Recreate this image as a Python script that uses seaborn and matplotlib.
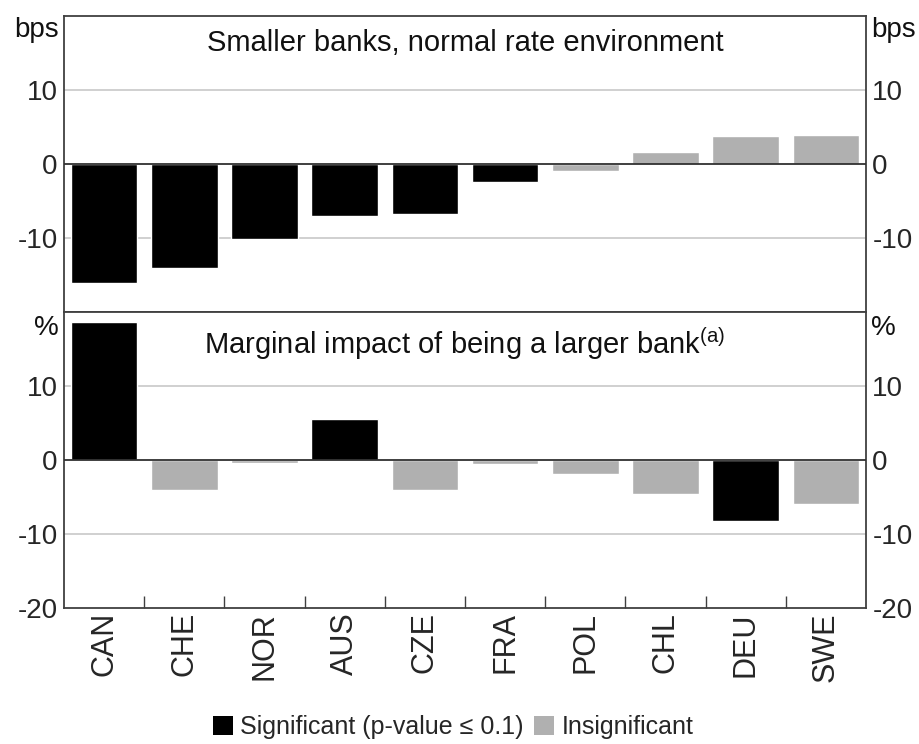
import matplotlib
matplotlib.use("Agg")
import matplotlib.pyplot as plt
from matplotlib.patches import Patch
from matplotlib.ticker import FixedLocator
import seaborn as sns
import pandas as pd
import numpy as np

# Countries, ordered as shown
countries = ["CAN", "CHE", "NOR", "AUS", "CZE", "FRA", "POL", "CHL", "DEU", "SWE"]

# Smaller banks, normal rate environment (bps)
small_bank_effect = [-16.1, -14.0, -10.1, -7.0, -6.8, -2.4, -1.0, 1.6, 3.8, 3.9]
small_bank_signif = [True, True, True, True, True, True, False, False, False, False]

# Marginal impact of being a larger bank (%)
large_bank_effect = [18.6, -4.1, -0.4, 5.6, -4.1, -0.5, -1.9, -4.6, -8.2, -5.9]
large_bank_signif = [True, False, False, True, False, False, False, False, True, False]

sig_labels = ["Significant (p-value \u2264 0.1)", "Insignificant"]
sig_colors = {sig_labels[0]: "#000000", sig_labels[1]: "#b0b0b0"}

top_df = pd.DataFrame({
    "country": countries,
    "value": small_bank_effect,
    "sig": [sig_labels[0] if s else sig_labels[1] for s in small_bank_signif],
})
bot_df = pd.DataFrame({
    "country": countries,
    "value": large_bank_effect,
    "sig": [sig_labels[0] if s else sig_labels[1] for s in large_bank_signif],
})

sns.set_theme(style="white")
plt.rcParams["font.family"] = ["Liberation Sans", "DejaVu Sans"]

W, H = 919, 744
fig, (ax1, ax2) = plt.subplots(2, 1, figsize=(W / 100, H / 100), dpi=100, sharex=True)
fig.subplots_adjust(left=64 / W, right=866 / W, top=1 - 16 / H, bottom=1 - 608 / H, hspace=0)

spine_col = "#404040"
fs = 20

panels = [
    (ax1, top_df, "Smaller banks, normal rate environment", "bps", [-10, 0, 10], 0.997),
    (ax2, bot_df, "Marginal impact of being a larger bank$^{\\mathregular{(a)}}$", "%", [-20, -10, 0, 10], 0.99),
]

for ax, df, title, unit, ticks, unit_y in panels:
    sns.barplot(data=df, x="country", y="value", hue="sig", hue_order=sig_labels,
                order=countries, palette=sig_colors, dodge=False, width=0.83,
                saturation=1, legend=False, ax=ax, zorder=3)
    ax.set_ylim(-20, 20)
    ax.set_xlim(-0.5, len(countries) - 0.5)
    ax.set_yticks(ticks)
    ax.set_yticklabels([str(t) for t in ticks])
    for g in (-10, 10):
        ax.axhline(g, color="#c8c8c8", lw=1.2, zorder=1)
    ax.axhline(0, color="#303030", lw=1.3, zorder=4)
    ax.tick_params(axis="y", which="both", left=False, right=False, length=0,
                   labelleft=True, labelright=True, labelsize=fs, pad=4.5)
    for sp in ax.spines.values():
        sp.set_visible(True)
        sp.set_color(spine_col)
        sp.set_linewidth(1.3)
    ax.set_xlabel("")
    ax.set_ylabel("")
    ax.text(0.5, 0.955, title, transform=ax.transAxes, ha="center", va="top",
            fontsize=21, color="#111111")
    ax.text(-0.006, unit_y, unit, transform=ax.transAxes, ha="right", va="top",
            fontsize=fs, color="#111111")
    ax.text(1.006, unit_y, unit, transform=ax.transAxes, ha="left", va="top",
            fontsize=fs, color="#111111")

ax1.tick_params(axis="x", which="both", bottom=False, top=False, labelbottom=False)

# Category labels under the lower panel with separator ticks between bars
ax2.set_xticks(range(len(countries)))
ax2.set_xticklabels(countries, rotation=90, fontsize=22)
ax2.xaxis.set_minor_locator(FixedLocator(np.arange(0.5, len(countries) - 1, 1)))
ax2.tick_params(axis="x", which="major", length=0, pad=3)
ax2.tick_params(axis="x", which="minor", direction="in", length=9, width=1,
                color=spine_col, bottom=True, top=False)

handles = [Patch(facecolor=sig_colors[l], edgecolor="none", label=l) for l in sig_labels]
fig.legend(handles=handles, loc="center", bbox_to_anchor=(0.493, 1 - 727 / H), ncol=2,
           frameon=False, fontsize=18, handlelength=0.8, handleheight=0.8,
           handletextpad=0.3, columnspacing=0.4)

fig.savefig("out.png", dpi=100, facecolor="white")
